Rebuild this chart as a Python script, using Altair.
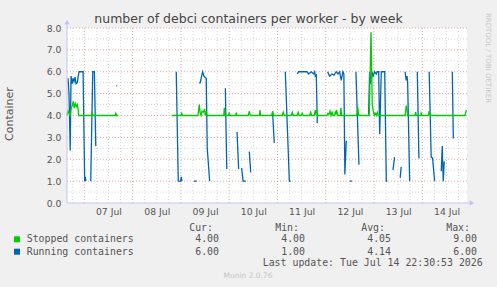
import altair as alt
import pandas as pd

# ---------------- data ----------------
START = pd.Timestamp("2026-07-06 15:24")
END = pd.Timestamp("2026-07-14 22:12")
TITLE = "number of debci containers per worker - by week"

# hours after START (None = gap in data)
running_h = [
    0.5, 1.0, 1.6, 2.0, 2.5, 3.0, 3.5, 4.0, 4.5, 5.1, 5.6, 6.0, 8.0, 8.8, 9.1, 9.4, None,
    11.8, 12.8, 13.6, 14.3, None,
    24.5, 25.0, None,
    54.3, 55.3, 56.5, 56.8, 57.1, None,
    63.1, 64.4, None,
    65.7, 66.2, 67.4, 68.1, 68.6, 69.2, 69.7, 70.9, None,
    78.7, 79.4, None,
    84.5, 85.3, None,
    86.8, 87.5, 88.9, None,
    90.6, 91.3, None,
    102.2, 103.0, None,
    108.5, 110.5, 111.2, None,
    114.4, 115.1, 116.7, 119.3, 120.1, 121.4, 122.6, 123.1, 123.4, 123.9, 124.4, None,
    129.5, 130.5, 131.7, 132.7, 133.8, 134.7, 135.5, 136.3, 137.1, 137.6, 138.1, 138.8, None,
    140.5, 141.6, None,
    143.6, 145.1, None,
    149.9, 150.4, 150.9, 151.6, 152.1, 152.9, 153.7, 154.2, 154.9, 155.4, 156.2, 157.9, 158.7, 159.2, None,
    162.0, 162.8, None,
    165.6, 166.1, None,
    168.0, 168.6, 169.0, 169.3, 170.3, None,
    174.1, 174.9, None,
    180.0, 181.0, 181.7, 182.7, None,
    186.0, 186.5, 187.0, 187.5, None,
    191.5, 192.0,
]
running_v = [
    5.7, 5.0, 2.4, 5.8, 5.45, 5.7, 5.55, 5.75, 5.45, 5.5, 5.8, 6.0, 6.0, 1.0, 1.2, 1.0, None,
    1.0, 6.0, 6.0, 2.6, None,
    5.35, 5.35, None,
    6.0, 1.0, 1.0, 1.2, 1.0, None,
    1.0, 1.0, None,
    5.48, 5.5, 6.0, 5.8, 5.75, 5.7, 2.5, 1.0, None,
    5.25, 1.55, None,
    3.25, 1.55, None,
    1.6, 1.0, 1.0, None,
    2.35, 1.4, None,
    4.1, 2.75, None,
    6.0, 1.0, 1.0, None,
    5.9, 6.0, 6.0, 6.0, 5.9, 6.0, 5.9, 6.0, 5.8, 5.85, 3.65, None,
    6.0, 5.8, 5.9, 5.85, 6.0, 5.9, 6.0, 5.6, 6.0, 5.9, 1.3, 2.85, None,
    1.0, 1.0, None,
    6.0, 1.75, None,
    4.05, 6.0, 5.45, 6.0, 5.8, 6.0, 5.9, 6.0, 6.0, 3.15, 6.0, 6.0, 1.0, 1.0, None,
    1.5, 2.1, None,
    1.15, 1.65, None,
    6.0, 5.6, 5.8, 5.5, 1.0, None,
    6.0, 2.05, None,
    6.0, 2.1, 2.05, 1.0, None,
    1.45, 2.6, 1.0, 1.9, None,
    6.0, 2.95,
]

stopped_h = [
    0.0, 0.5, 1.0, 1.5, 2.0, 2.6, 3.1, 3.6, 4.1, 4.6, 5.1, 5.5, 5.8,
    12.2, 12.6, 12.9, 24.0, 24.3, 24.7, 25.3, None,
    52.0, 56.6, 57.0, 57.3, 65.1, 65.7, 66.2, 66.6, 67.1, 67.7, 68.4, 68.7, 69.2, 69.6,
    77.9, 78.2, 78.5, 80.3, 80.6, 81.0, 83.8, 84.1, 84.5, 90.1, 90.6, 91.1, 95.6, 95.9, 96.2,
    101.7, 102.2, 102.7, 107.0, 107.5, 108.0, 111.5, 112.0, 112.5,
    114.4, 114.9, 115.4, 116.4, 116.9, 117.4, 120.6, 121.1, 121.6,
    122.9, 123.4, 123.7, 124.1, 124.6,
    129.2, 129.7, 130.2, 130.7, 131.2, 131.7, 132.2,
    133.0, 133.3, 133.7, 134.0, 134.5,
    135.8, 136.1, 136.5, 144.0, 144.5, 145.0,
    150.2, 151.1, 151.7, 152.2, 152.7, 153.2, 153.7, 154.2, 154.7,
    168.1, 168.6, 169.0, 169.3, 172.9, 173.3, 173.6, 175.8, 176.0, 176.4,
    179.5, 180.0, 180.5, 197.8, 198.5,
]
stopped_v = [
    4.0, 4.2, 4.1, 4.0, 4.3, 4.45, 4.65, 4.35, 4.55, 4.4, 4.5, 4.3, 4.0,
    4.0, 4.15, 4.0, 4.0, 4.1, 4.0, 4.0, None,
    4.0, 4.0, 4.1, 4.0, 4.0, 4.5, 4.1, 4.0, 4.2, 4.15, 4.3, 4.0, 4.2, 4.0,
    4.0, 4.35, 4.0, 4.0, 4.1, 4.0, 4.0, 4.1, 4.0, 4.0, 4.2, 4.0, 4.0, 4.25, 4.0,
    4.0, 4.2, 4.0, 4.0, 4.15, 4.0, 4.0, 4.15, 4.0,
    4.0, 4.15, 4.0, 4.0, 4.1, 4.0, 4.0, 4.15, 4.0,
    4.0, 4.25, 4.1, 4.2, 4.0,
    4.0, 4.1, 4.05, 4.2, 4.0, 4.15, 4.0,
    4.0, 4.15, 4.05, 4.25, 4.0,
    4.0, 4.35, 4.0, 4.0, 4.4, 4.0,
    4.0, 7.8, 4.5, 4.2, 4.0, 4.1, 4.0, 4.15, 4.0,
    4.0, 4.45, 4.3, 4.0, 4.0, 4.15, 4.0, 4.0, 4.1, 4.0,
    4.0, 4.2, 4.0, 4.0, 4.25,
]

series_names = ["Stopped containers", "Running containers"]
series_colors = ["#00CC00", "#0066B3"]
cur_vals = ["4.00", "6.00"]
min_vals = ["4.00", "1.00"]
avg_vals = ["4.05", "4.14"]
max_vals = ["9.00", "6.00"]
last_update = "Last update: Tue Jul 14 22:30:53 2026"
day_labels = pd.date_range("2026-07-07 12:00", "2026-07-14 12:00", freq="D")


def to_df(hours, vals, name):
    rows, seg = [], 0
    for h, v in zip(hours, vals):
        if h is None:
            seg += 1
            continue
        rows.append({"t": START + pd.Timedelta(hours=h), "v": v, "seg": f"{name}{seg}"})
    return pd.DataFrame(rows)


run_df = to_df(running_h, running_v, "run")
stop_df = to_df(stopped_h, stopped_v, "stop")


def dt(ts):
    return alt.DateTime(year=ts.year, month=ts.month, date=ts.day, hours=ts.hour, minutes=ts.minute)


GRAY = "#555555"
FONT = "DejaVu Sans"
MONO = "DejaVu Sans Mono"
AXC = "#C4C4F0"

x_axis = alt.Axis(values=[dt(d) for d in day_labels], format="%d %b", labelFont=FONT,
                  labelFontSize=9.3, labelColor=GRAY, domain=False, ticks=False, grid=False,
                  labelPadding=4, labelAngle=0, title=None)
y_axis = alt.Axis(values=list(range(9)), format=".1f", labelFont=FONT, labelFontSize=9.3,
                  labelColor=GRAY, domain=False, ticks=False, grid=False, labelPadding=6,
                  title=None)
X = alt.X("t:T", scale=alt.Scale(domain=[dt(START), dt(END)]), axis=x_axis)
Y = alt.Y("v:Q", scale=alt.Scale(domain=[0, 8]), axis=y_axis)

# grid
vg = pd.DataFrame({"t": pd.date_range("2026-07-06 18:00", "2026-07-14 18:00", freq="6h")})
vg["kind"] = ["major" if t.hour == 0 else "minor" for t in vg["t"]]
hg = pd.DataFrame({"v": [i * 0.5 for i in range(1, 17)]})
hg["kind"] = ["major" if v == int(v) else "minor" for v in hg["v"]]
gcol = alt.Color("kind:N", scale=alt.Scale(domain=["minor", "major"], range=["#D6D6D6", "#E6A6A6"]), legend=None)

vgrid = alt.Chart(vg).mark_rule(strokeDash=[1, 2], strokeWidth=1).encode(x=X, color=gcol)
hgrid = alt.Chart(hg).mark_rule(strokeDash=[1, 2], strokeWidth=1).encode(y=Y, color=gcol)

run_line = alt.Chart(run_df).mark_line(color=series_colors[1], strokeWidth=1.3).encode(x=X, y=Y, detail="seg:N")
stop_line = alt.Chart(stop_df).mark_line(color=series_colors[0], strokeWidth=1.3).encode(x=X, y=Y, detail="seg:N")

one = pd.DataFrame({"a": [0]})
yline = alt.Chart(one).mark_rule(color=AXC, strokeWidth=1).encode(x=alt.value(0), y=alt.value(-5), y2=alt.value(175))
xline = alt.Chart(one).mark_rule(color=AXC, strokeWidth=1).encode(x=alt.value(0), x2=alt.value(404), y=alt.value(175))
yarrow = alt.Chart(one).mark_point(shape="triangle-up", filled=True, color=AXC, size=28, opacity=1).encode(x=alt.value(0), y=alt.value(-6))
xarrow = alt.Chart(one).mark_point(shape="triangle-right", filled=True, color=AXC, size=28, opacity=1).encode(x=alt.value(405), y=alt.value(175))


def txt(s, x, y, font=MONO, size=9.9, color=GRAY, align="left", angle=0):
    return alt.Chart(pd.DataFrame({"s": [s]})).mark_text(
        font=font, fontSize=size, color=color, align=align, baseline="middle", angle=angle
    ).encode(text="s:N", x=alt.value(x), y=alt.value(y))


texts = [
    txt(TITLE, 181.5, -9, font=FONT, size=12.5, color="#444444", align="center"),
    txt("Container", -57, 86, font=FONT, size=11, color=GRAY, align="center", angle=270),
    txt("RRDTOOL / TOBI OETIKER", 421, 30, font=FONT, size=7, color="#C8C8C8", align="center", angle=90),
    txt("Cur:", 146, 199.7, align="right"),
    txt("Min:", 232, 199.7, align="right"),
    txt("Avg:", 318, 199.7, align="right"),
    txt("Max:", 403, 199.7, align="right"),
    txt(last_update, 415.7, 235.3, align="right"),
    txt("Munin 2.0.76", 181, 248.3, font=FONT, size=7.5, color="#C4C4C4", align="center"),
]
for i in range(2):
    yy = 211.3 + 12.4 * i
    texts.append(alt.Chart(one).mark_square(size=36, color=series_colors[i], opacity=1).encode(
        x=alt.value(-50), y=alt.value(yy)))
    texts.append(txt(series_names[i], -40.3, yy))
    texts.append(txt(cur_vals[i], 152, yy, align="right"))
    texts.append(txt(min_vals[i], 238, yy, align="right"))
    texts.append(txt(avg_vals[i], 324, yy, align="right"))
    texts.append(txt(max_vals[i], 410, yy, align="right"))

chart = alt.layer(vgrid, hgrid, run_line, stop_line, yline, xline, yarrow, xarrow, *texts).properties(
    width=400, height=175,
    autosize=alt.AutoSizeParams(type="none"),
    padding={"left": 67, "top": 28, "right": 30, "bottom": 84},
    background="#F0F0F0",
).configure_view(fill="white", strokeWidth=0)

chart.save("out.html", embed_options={"renderer": "svg", "actions": False})
